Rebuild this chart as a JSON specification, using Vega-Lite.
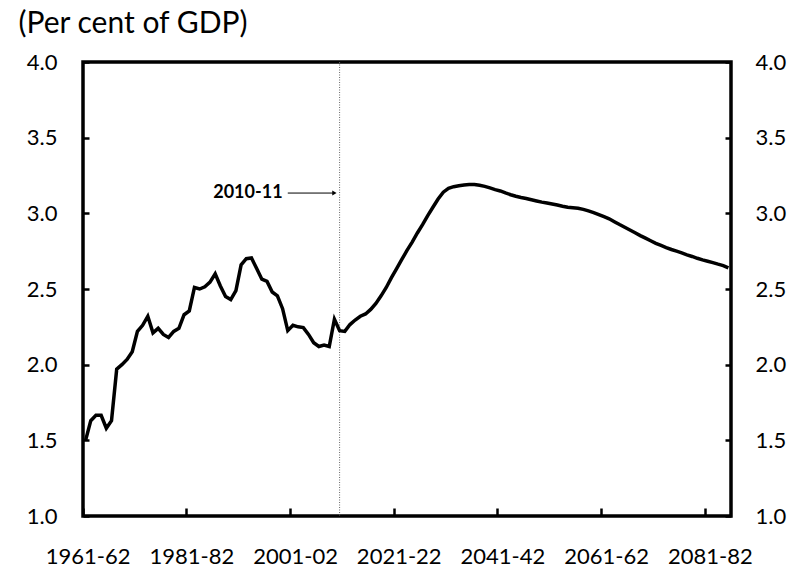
{
  "$schema": "https://vega.github.io/schema/vega-lite/v6.json",
  "width": 648,
  "height": 454,
  "autosize": {"type": "none"},
  "padding": {"left": 83, "top": 62, "right": 62, "bottom": 55},
  "background": "white",
  "config": {
    "font": "Lato",
    "view": {"stroke": "black", "strokeWidth": 3.5},
    "axis": {
      "grid": false,
      "domain": false,
      "labelFont": "Lato",
      "labelFontSize": 22,
      "labelColor": "black",
      "tickColor": "black",
      "tickWidth": 2.5,
      "titleFont": "Lato",
      "titleColor": "black",
      "titleFontWeight": "normal"
    }
  },
  "datasets": {
    "spend": [
      {"period": "1961-62", "value": 1.50}, {"period": "1962-63", "value": 1.63}, {"period": "1963-64", "value": 1.665},
      {"period": "1964-65", "value": 1.665}, {"period": "1965-66", "value": 1.58}, {"period": "1966-67", "value": 1.63},
      {"period": "1967-68", "value": 1.97}, {"period": "1968-69", "value": 2.00}, {"period": "1969-70", "value": 2.035},
      {"period": "1970-71", "value": 2.085}, {"period": "1971-72", "value": 2.22}, {"period": "1972-73", "value": 2.26},
      {"period": "1973-74", "value": 2.32}, {"period": "1974-75", "value": 2.21}, {"period": "1975-76", "value": 2.24},
      {"period": "1976-77", "value": 2.20}, {"period": "1977-78", "value": 2.18}, {"period": "1978-79", "value": 2.22},
      {"period": "1979-80", "value": 2.24}, {"period": "1980-81", "value": 2.33}, {"period": "1981-82", "value": 2.355},
      {"period": "1982-83", "value": 2.51}, {"period": "1983-84", "value": 2.50}, {"period": "1984-85", "value": 2.515},
      {"period": "1985-86", "value": 2.545}, {"period": "1986-87", "value": 2.60}, {"period": "1987-88", "value": 2.52},
      {"period": "1988-89", "value": 2.45}, {"period": "1989-90", "value": 2.43}, {"period": "1990-91", "value": 2.49},
      {"period": "1991-92", "value": 2.66}, {"period": "1992-93", "value": 2.70}, {"period": "1993-94", "value": 2.705},
      {"period": "1994-95", "value": 2.635}, {"period": "1995-96", "value": 2.565}, {"period": "1996-97", "value": 2.55},
      {"period": "1997-98", "value": 2.48}, {"period": "1998-99", "value": 2.455}, {"period": "1999-00", "value": 2.37},
      {"period": "2000-01", "value": 2.225}, {"period": "2001-02", "value": 2.26}, {"period": "2002-03", "value": 2.25},
      {"period": "2003-04", "value": 2.245}, {"period": "2004-05", "value": 2.20}, {"period": "2005-06", "value": 2.145},
      {"period": "2006-07", "value": 2.12}, {"period": "2007-08", "value": 2.13}, {"period": "2008-09", "value": 2.12},
      {"period": "2009-10", "value": 2.30}, {"period": "2010-11", "value": 2.225}, {"period": "2011-12", "value": 2.22},
      {"period": "2012-13", "value": 2.265}, {"period": "2013-14", "value": 2.295}, {"period": "2014-15", "value": 2.32},
      {"period": "2015-16", "value": 2.335}, {"period": "2016-17", "value": 2.365}, {"period": "2017-18", "value": 2.405},
      {"period": "2018-19", "value": 2.455}, {"period": "2019-20", "value": 2.51}, {"period": "2020-21", "value": 2.575},
      {"period": "2021-22", "value": 2.635}, {"period": "2022-23", "value": 2.695}, {"period": "2023-24", "value": 2.755},
      {"period": "2024-25", "value": 2.81}, {"period": "2025-26", "value": 2.87}, {"period": "2026-27", "value": 2.925},
      {"period": "2027-28", "value": 2.985}, {"period": "2028-29", "value": 3.04}, {"period": "2029-30", "value": 3.095},
      {"period": "2030-31", "value": 3.14}, {"period": "2031-32", "value": 3.165}, {"period": "2032-33", "value": 3.176},
      {"period": "2033-34", "value": 3.182}, {"period": "2034-35", "value": 3.187}, {"period": "2035-36", "value": 3.19},
      {"period": "2036-37", "value": 3.19}, {"period": "2037-38", "value": 3.185}, {"period": "2038-39", "value": 3.178},
      {"period": "2039-40", "value": 3.168}, {"period": "2040-41", "value": 3.157}, {"period": "2041-42", "value": 3.148},
      {"period": "2042-43", "value": 3.135}, {"period": "2043-44", "value": 3.123}, {"period": "2044-45", "value": 3.113},
      {"period": "2045-46", "value": 3.105}, {"period": "2046-47", "value": 3.098}, {"period": "2047-48", "value": 3.09},
      {"period": "2048-49", "value": 3.082}, {"period": "2049-50", "value": 3.074}, {"period": "2050-51", "value": 3.068},
      {"period": "2051-52", "value": 3.062}, {"period": "2052-53", "value": 3.055}, {"period": "2053-54", "value": 3.047},
      {"period": "2054-55", "value": 3.04}, {"period": "2055-56", "value": 3.037}, {"period": "2056-57", "value": 3.034},
      {"period": "2057-58", "value": 3.026}, {"period": "2058-59", "value": 3.016}, {"period": "2059-60", "value": 3.005},
      {"period": "2060-61", "value": 2.992}, {"period": "2061-62", "value": 2.978}, {"period": "2062-63", "value": 2.964},
      {"period": "2063-64", "value": 2.945}, {"period": "2064-65", "value": 2.926}, {"period": "2065-66", "value": 2.908},
      {"period": "2066-67", "value": 2.89}, {"period": "2067-68", "value": 2.872}, {"period": "2068-69", "value": 2.853},
      {"period": "2069-70", "value": 2.836}, {"period": "2070-71", "value": 2.819}, {"period": "2071-72", "value": 2.802},
      {"period": "2072-73", "value": 2.788}, {"period": "2073-74", "value": 2.774}, {"period": "2074-75", "value": 2.761},
      {"period": "2075-76", "value": 2.75}, {"period": "2076-77", "value": 2.739}, {"period": "2077-78", "value": 2.726},
      {"period": "2078-79", "value": 2.715}, {"period": "2079-80", "value": 2.703}, {"period": "2080-81", "value": 2.692},
      {"period": "2081-82", "value": 2.683}, {"period": "2082-83", "value": 2.674}, {"period": "2083-84", "value": 2.664},
      {"period": "2084-85", "value": 2.655}, {"period": "2085-86", "value": 2.64}
    ]
  },
  "encoding": {
    "x": {
      "field": "period", "type": "ordinal",
      "scale": {"type": "band", "paddingInner": 0, "paddingOuter": 0},
      "axis": {
        "title": null,
        "values": ["1961-62", "1981-82", "2001-02", "2021-22", "2041-42", "2061-62", "2081-82"],
        "labelAngle": 0,
        "bandPosition": 0,
        "labelOffset": 2.6,
        "offset": -8,
        "tickSize": 8,
        "labelPadding": 30,
        "labelFlush": false,
        "labelOverlap": false
      }
    }
  },
  "layer": [
    {
      "data": {"values": [{"period": "2010-11"}]},
      "mark": {"type": "rule", "stroke": "#666666", "strokeDash": [1, 1.5], "strokeWidth": 1}
    },
    {
      "data": {"name": "spend"},
      "mark": {"type": "line", "color": "black", "strokeWidth": 3.5},
      "encoding": {
        "y": {
          "field": "value", "type": "quantitative",
          "scale": {"domain": [1, 4], "nice": false, "zero": false},
          "axis": {
            "orient": "left",
            "values": [1, 1.5, 2, 2.5, 3, 3.5, 4],
            "format": ".1f",
            "offset": -6,
            "tickSize": 6,
            "labelPadding": 26,
            "title": "(Per cent of GDP)",
            "titleAngle": 0,
            "titleX": -71,
            "titleY": -30,
            "titleAlign": "left",
            "titleBaseline": "alphabetic",
            "titleFontSize": 30
          }
        }
      }
    },
    {
      "data": {"values": [{"period": "1999-00", "value": 3.134, "label": "2010-11"}]},
      "mark": {"type": "text", "align": "right", "baseline": "middle", "fontWeight": "bold", "fontSize": 18, "color": "black", "font": "Lato"},
      "encoding": {
        "y": {
          "field": "value", "type": "quantitative",
          "scale": {"domain": [1, 4], "nice": false, "zero": false},
          "axis": {
            "orient": "right",
            "values": [1, 1.5, 2, 2.5, 3, 3.5, 4],
            "format": ".1f",
            "offset": -6,
            "tickSize": 6,
            "labelPadding": 24,
            "title": null
          }
        },
        "text": {"field": "label"}
      }
    },
    {
      "data": {"values": [{"period": "2000-01", "value": 3.134}, {"period": "2009-10", "value": 3.134}]},
      "mark": {"type": "line", "color": "black", "strokeWidth": 1},
      "encoding": {
        "y": {"field": "value", "type": "quantitative", "scale": {"domain": [1, 4], "nice": false, "zero": false}, "axis": null}
      }
    },
    {
      "data": {"values": [{"period": "2009-10", "value": 3.134}]},
      "mark": {"type": "point", "shape": "triangle-right", "filled": true, "color": "black", "size": 25, "opacity": 1},
      "encoding": {
        "y": {"field": "value", "type": "quantitative", "scale": {"domain": [1, 4], "nice": false, "zero": false}, "axis": null}
      }
    }
  ],
  "resolve": {"axis": {"y": "independent"}}
}
